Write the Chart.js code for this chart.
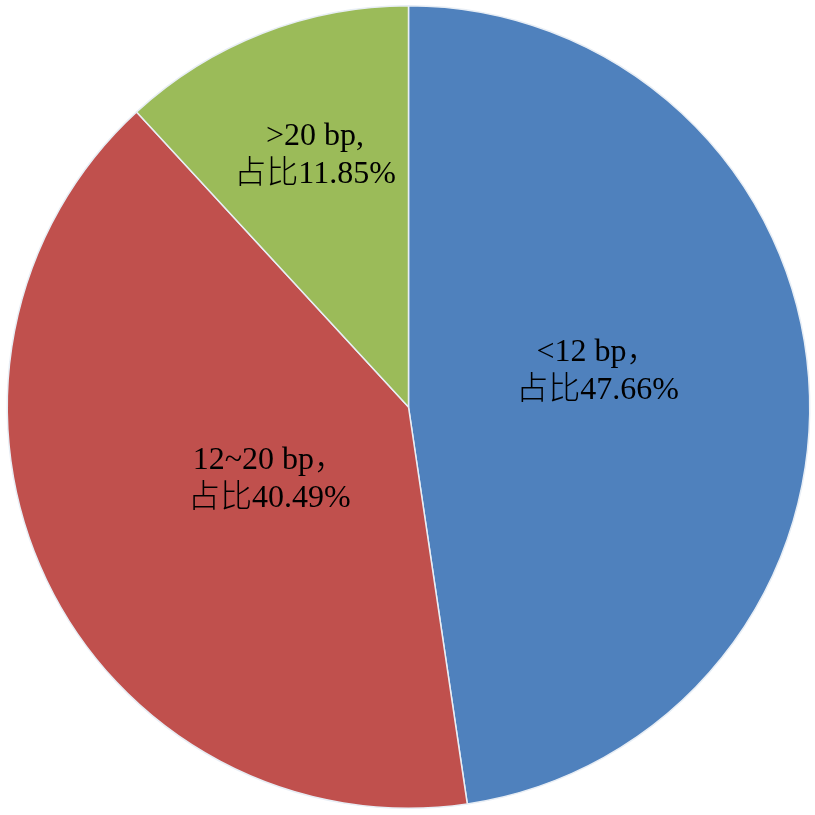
<!DOCTYPE html>
<html>
<head>
<meta charset="utf-8">
<script src="https://cdn.jsdelivr.net/npm/chart.js@4/dist/chart.umd.min.js"></script>
<style>
    html, body { margin: 0; padding: 0; background: #ffffff; }
    #wrap { width: 815px; height: 815px; }
</style>
</head>
<body>
<div id="wrap"><canvas id="chart" width="815" height="815"></canvas></div>
<script>
/* =============================
   DATA
============================= */
const categories = ["<12 bp", "12~20 bp", ">20 bp"];
const shares = [47.66, 40.49, 11.85];
const labelLines = [
    ["<12 bp\uFF0C", "占比47.66%"],
    ["12~20 bp\uFF0C", "占比40.49%"],
    [">20 bp,", "占比11.85%"]
];

const sliceColors = ["#4F81BD", "#C0504D", "#9BBB59"];

/* label placement per slice: fraction of radius + angle nudge (deg) */
const labelPlace = [
    { r: 0.48, da: -6.8 },
    { r: 0.39, da: -1.7 },
    { r: 0.67, da: 1.0 }
];

/* =============================
   SLICE LABELS PLUGIN
============================= */
const sliceLabels = {
    id: "sliceLabels",
    afterDatasetsDraw(chart) {
        const ctx = chart.ctx;
        const meta = chart.getDatasetMeta(0);
        ctx.save();
        ctx.fillStyle = "#000000";
        ctx.font = '300 32px "Liberation Serif", "Noto Sans CJK SC", serif';
        ctx.textAlign = "center";
        ctx.textBaseline = "middle";
        meta.data.forEach((arc, i) => {
            const p = arc.getProps(["x", "y", "startAngle", "endAngle", "outerRadius"], true);
            const mid = (p.startAngle + p.endAngle) / 2 + labelPlace[i].da * Math.PI / 180;
            const r = p.outerRadius * labelPlace[i].r;
            const cx = p.x + Math.cos(mid) * r;
            const cy = p.y + Math.sin(mid) * r + 1;
            const lines = labelLines[i];
            const lh = 38;
            lines.forEach((t, k) => {
                ctx.fillText(t, cx, cy + (k - (lines.length - 1) / 2) * lh);
            });
        });
        ctx.restore();
    }
};

/* =============================
   CHART
============================= */
new Chart(document.getElementById("chart"), {
    type: "pie",
    data: {
        labels: categories,
        datasets: [{
            data: shares,
            backgroundColor: sliceColors,
            borderColor: "#e8eef5",
            borderWidth: 1.5
        }]
    },
    options: {
        responsive: false,
        animation: false,
        layout: { padding: { top: 5, bottom: 6, left: 6, right: 4 } },
        plugins: {
            legend: { display: false },
            tooltip: { enabled: false }
        }
    },
    plugins: [sliceLabels]
});
</script>
</body>
</html>
